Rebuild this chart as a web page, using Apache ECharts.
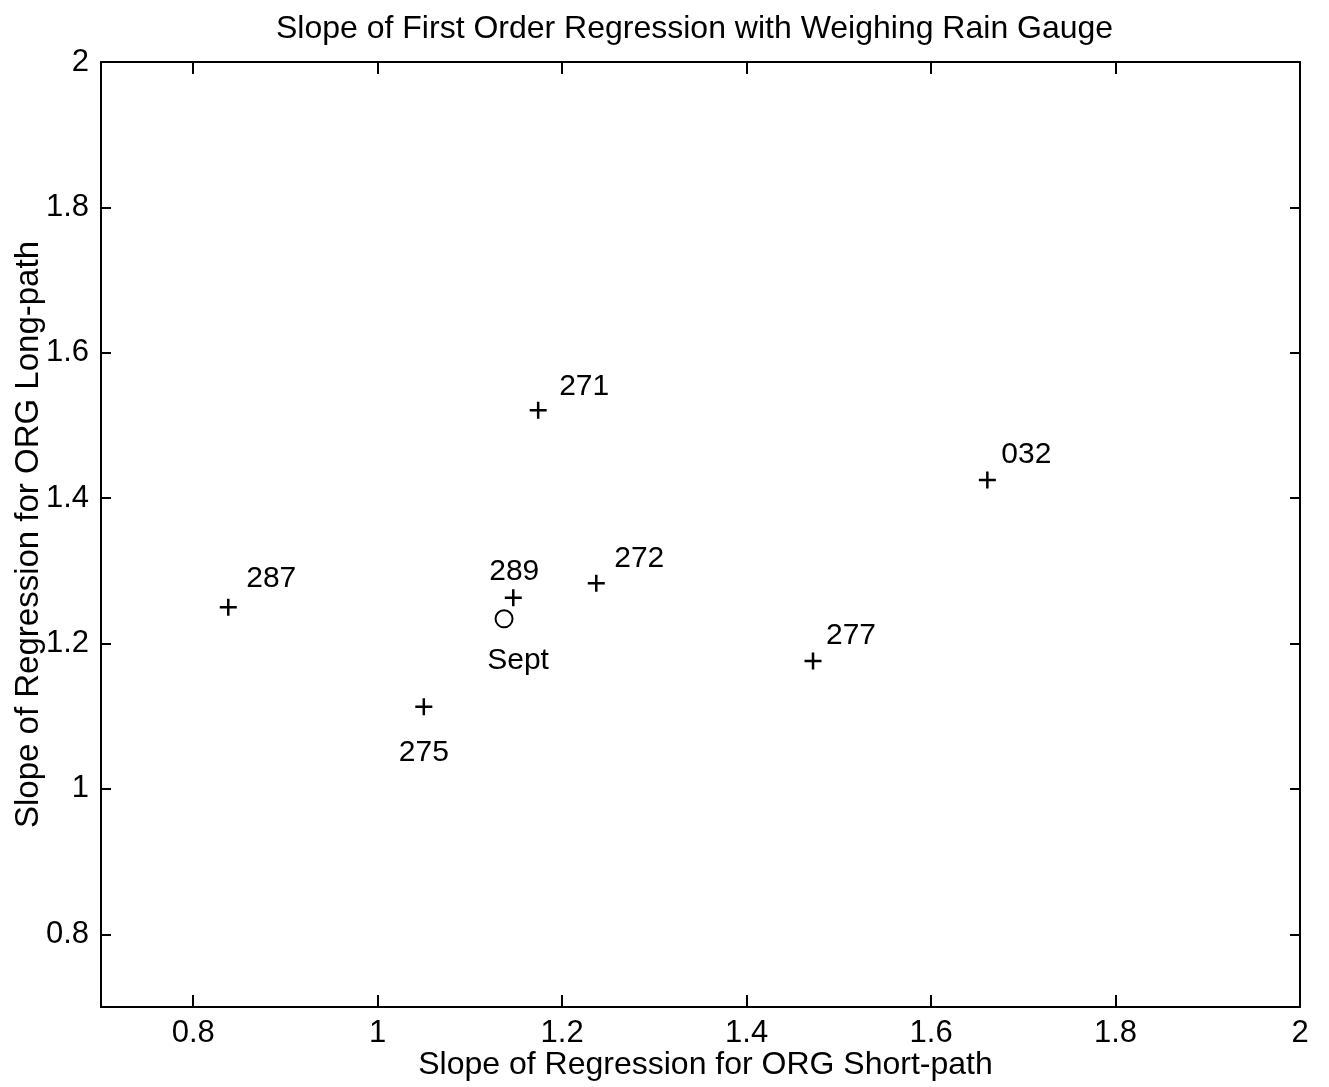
<!DOCTYPE html>
<html>
<head>
<meta charset="utf-8">
<script src="https://cdn.jsdelivr.net/npm/echarts@6/dist/echarts.min.js"></script>
<style>
  html, body { margin: 0; padding: 0; background: #fff; }
  #chart { width: 1329px; height: 1087px; }
</style>
</head>
<body>
<div id="chart"></div>
<script>
// station day numbers and their regression slopes
const stations = ['287', '275', '289', '271', '272', '277', '032']
const shortPathSlope = [0.838, 1.050, 1.147, 1.174, 1.237, 1.472, 1.661]
const longPathSlope = [1.250, 1.113, 1.263, 1.521, 1.283, 1.176, 1.425]
// september overall
const septName = 'Sept'
const septShort = [1.137]
const septLong = [1.234]

const axisMin = 0.7
const axisMax = 2

// label placement relative to the marker (px)
const labelOffset = {
  '287': [43, -28],
  '275': [0, 46],
  '289': [1, -26],
  '271': [46, -23],
  '272': [43, -24],
  '277': [38, -25],
  '032': [39, -25],
  'Sept': [14, 42]
}

const font = '"Liberation Sans", Arial, sans-serif'
const plusPath = 'path://M0,8L16,8M8,0L8,16'

const myChart = echarts.init(document.getElementById('chart'))

const pointData = stations.map((s, i) => ({
  name: s,
  value: [shortPathSlope[i], longPathSlope[i]],
  label: { offset: labelOffset[s] }
}))
const septData = septShort.map((x, i) => ({
  name: septName,
  value: [x, septLong[i]],
  label: { offset: labelOffset[septName] }
}))

const baseAxis = {
  type: 'value',
  min: axisMin,
  max: axisMax,
  splitNumber: 6,
  splitLine: { show: false },
  axisLine: { show: true, onZero: false, lineStyle: { color: '#000', width: 2 } },
  axisTick: { show: true, inside: true, length: 12, lineStyle: { color: '#000', width: 2 } }
}

myChart.setOption({
  animation: false,
  backgroundColor: '#fff',
  textStyle: { fontFamily: font, color: '#000' },
  title: {
    text: 'Slope of First Order Regression with Weighing Rain Gauge',
    left: 271,
    top: 8,
    textStyle: { fontFamily: font, fontSize: 32, fontWeight: 'normal', color: '#000' }
  },
  grid: { left: 101, right: 29, top: 62, bottom: 80, outerBoundsMode: 'none' },
  xAxis: [
    Object.assign({}, baseAxis, {
      position: 'bottom',
      name: 'Slope of Regression for ORG Short-path',
      nameLocation: 'middle',
      nameGap: 42,
      nameMoveOverlap: false,
      nameTextStyle: { fontFamily: font, fontSize: 32, color: '#000', verticalAlign: 'top', padding: [0, 0, 0, 10] },
      axisLabel: { showMinLabel: false, margin: 11, fontFamily: font, fontSize: 31, color: '#000' }
    }),
    Object.assign({}, baseAxis, {
      position: 'top',
      axisLabel: { show: false }
    })
  ],
  yAxis: [
    Object.assign({}, baseAxis, {
      position: 'left',
      name: 'Slope of Regression for ORG Long-path',
      nameLocation: 'middle',
      nameGap: 56,
      nameMoveOverlap: false,
      nameTextStyle: { fontFamily: font, fontSize: 33, color: '#000' },
      axisTick: { show: true, inside: true, length: 10, lineStyle: { color: '#000', width: 2 } },
      axisLabel: { showMinLabel: false, margin: 12, fontFamily: font, fontSize: 31, color: '#000' }
    }),
    Object.assign({}, baseAxis, {
      position: 'right',
      axisTick: { show: true, inside: true, length: 10, lineStyle: { color: '#000', width: 2 } },
      axisLabel: { show: false }
    })
  ],
  series: [
    {
      type: 'scatter',
      data: pointData,
      symbol: plusPath,
      symbolSize: 17,
      itemStyle: { color: 'rgba(0,0,0,0)', borderColor: '#000', borderWidth: 2.5, opacity: 1 },
      label: {
        show: true,
        position: 'inside',
        formatter: '{b}',
        fontFamily: font,
        fontSize: 30,
        color: '#000'
      }
    },
    {
      type: 'scatter',
      data: septData,
      symbol: 'emptyCircle',
      symbolSize: 17,
      itemStyle: { color: '#000', borderColor: '#000', borderWidth: 2, opacity: 1 },
      label: {
        show: true,
        position: 'inside',
        formatter: '{b}',
        fontFamily: font,
        fontSize: 30,
        color: '#000'
      }
    }
  ]
})
</script>
</body>
</html>
